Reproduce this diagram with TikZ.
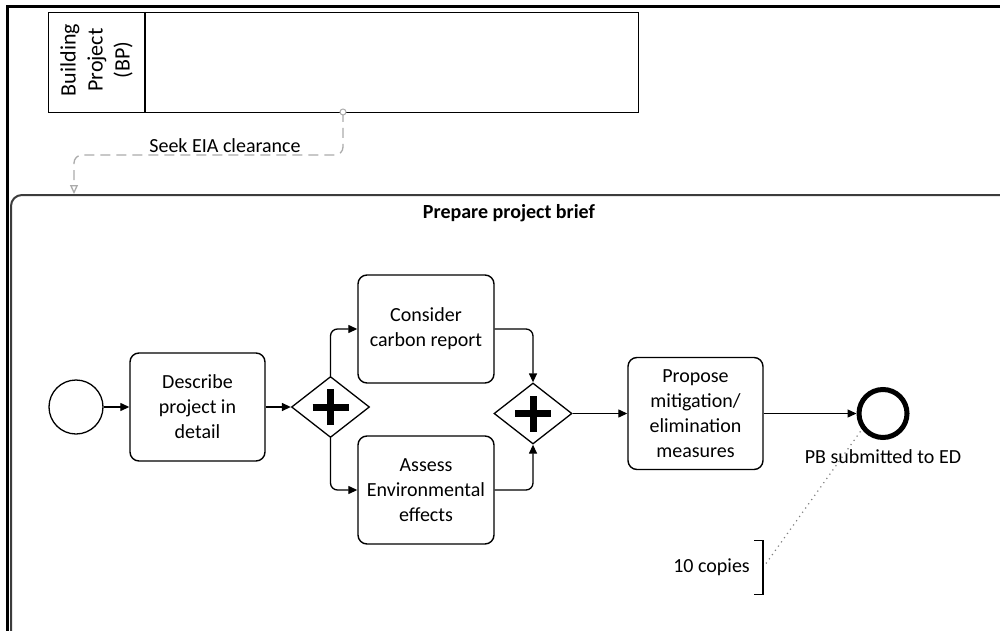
\documentclass[tikz,border=0pt]{standalone}
\usepackage{fontspec}
\setmainfont{Carlito}
\usetikzlibrary{arrows.meta,shapes.geometric,calc}

\definecolor{msggray}{HTML}{ABABAB}
\definecolor{subgray}{HTML}{3C3C3C}

\tikzset{
  txt/.style={font=\fontsize{20}{25}\selectfont},
  task/.style={txt, draw, line width=1.4pt, rounded corners=9pt, align=center,
    minimum width=135pt, minimum height=108pt, inner sep=2pt},
  gw/.style={draw, diamond, line width=1.3pt, minimum width=78pt,
    minimum height=61pt, inner sep=0pt},
  plusbar/.style={line width=7pt},
  seqflow/.style={line width=1.3pt, -{Triangle[length=9pt,width=8pt]}},
  msgflow/.style={msggray, line width=1.3pt, dash pattern=on 10pt off 6pt,
    rounded corners=8pt, -{Triangle[open,length=9pt,width=8pt]}},
  assoc/.style={gray, line width=1.2pt, dash pattern=on 1.2pt off 4pt},
}

\begin{document}
\begin{tikzpicture}[x=1pt,y=-1pt]
\useasboundingbox (0,0) rectangle (1000,631);
\clip (0,0) rectangle (1000,631);

% outer frame of the enclosing pool
\draw[line width=3pt] (7,650) -- (7,7) -- (1020,7);

% Building Project pool
\node[draw, line width=1.2pt, anchor=north west, minimum width=590pt,
  minimum height=100pt, inner sep=0pt] (pool) at (48,12) {};
\draw[line width=1.2pt] (145,12) -- (145,112);
\node[font=\fontsize{22}{27}\selectfont, rotate=90, align=center] (poollbl) at (96.5,60) {Building\\Project\\(BP)};

% expanded sub-process
\node[draw=subgray, line width=2pt, rounded corners=11pt, anchor=north west,
  minimum width=1030pt, minimum height=470pt, inner sep=0pt] (sub) at (10,194) {};
\node[txt, font=\fontsize{20}{25}\selectfont\bfseries] (subtitle) at (509,213) {Prepare project brief};

% message flow
\coordinate (mfs) at (343,112);
\coordinate (mfk) at (74,155);
\coordinate (mft) at (74,194);
\draw[msgflow] (mfs) |- (mfk) -- (mft);
\draw[msggray, line width=1pt, fill=white] (mfs) circle (3pt);
\node[txt, fill=white, inner sep=1pt] (mflbl) at (225,146) {Seek EIA clearance};

% events, tasks and gateways
\node[draw, circle, line width=1.3pt, minimum size=54pt, inner sep=0pt] (start) at (76,407) {};
\node[task] (describe) at (197.5,407) {Describe\\project in\\detail};
\node[gw] (g1) at (330.5,407) {};
\node[task, minimum width=136pt] (consider) at (426,329) {Consider\\carbon report};
\node[task, minimum width=136pt] (assess) at (426,490) {Assess\\Environmental\\effects};
\node[gw] (g2) at (533,413.5) {};
\node[task, minimum height=112pt] (propose) at (695.5,413.5) {Propose\\mitigation/\\elimination\\measures};
\node[draw, circle, line width=5pt, minimum size=48pt, inner sep=0pt] (end) at (883,413.5) {};
\node[txt] (endlbl) at (883,457) {PB submitted to ED};

% gateway markers
\foreach \g in {g1,g2}{
  \draw[plusbar] ([xshift=-18pt]\g.center) -- ([xshift=18pt]\g.center);
  \draw[plusbar] ([yshift=-18pt]\g.center) -- ([yshift=18pt]\g.center);
}

% sequence flows
\draw[seqflow] (start) -- (describe);
\draw[seqflow] (describe) -- (g1);
\draw[seqflow, rounded corners=7pt] (g1.north) |- (consider.west);
\draw[seqflow, rounded corners=7pt] (g1.south) |- (assess.west);
\draw[seqflow, rounded corners=7pt] (consider.east) -| (g2.north);
\draw[seqflow, rounded corners=7pt] (assess.east) -| (g2.south);
\draw[seqflow] (g2) -- (propose);
\draw[seqflow] (propose) -- (end);

% text annotation
\node[txt, anchor=east, minimum height=53pt, inner xsep=13pt] (ann) at (763,567.5) {10 copies};
\draw[line width=1.3pt] ([xshift=-9pt]ann.north east) -- (ann.north east)
  -- (ann.south east) -- ([xshift=-9pt]ann.south east);
\draw[assoc] ([xshift=3pt,yshift=4pt]ann.east) -- (end.217);
\end{tikzpicture}
\end{document}
